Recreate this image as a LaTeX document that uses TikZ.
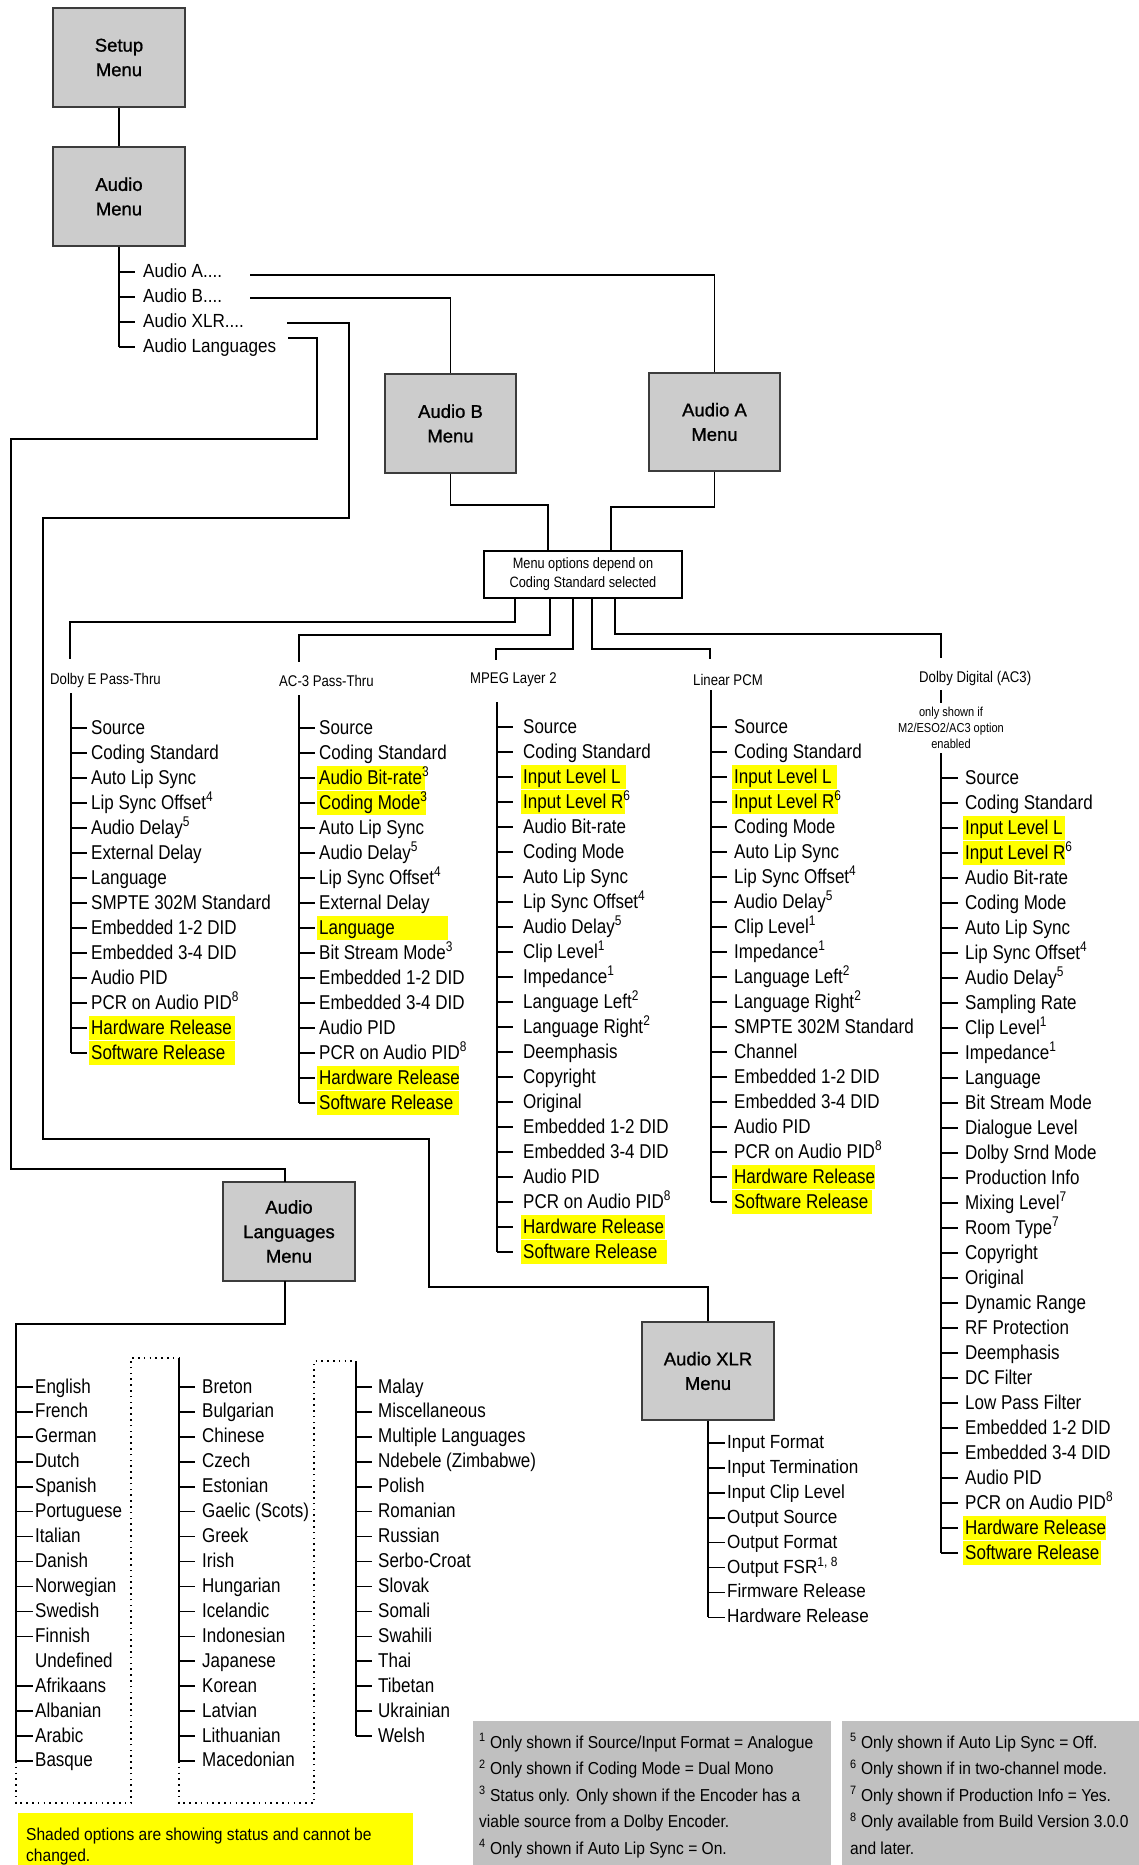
\documentclass[tikz,border=0pt]{standalone}
\usepackage{fontspec}
\setmainfont{Liberation Sans}
\newfontfamily\nf{Liberation Sans}[FakeStretch=0.85]
\newfontfamily\mf{Liberation Sans}[FakeStretch=0.9]
\newfontfamily\bxf{Liberation Sans}[FakeBold=1]
\newcommand\fsz[2]{\fontsize{#1}{#2}\selectfont}
\newcommand\fdots{{.}{.}{.}{.}}
\definecolor{boxgray}{RGB}{204,204,204}
\definecolor{boxline}{RGB}{60,60,60}
\definecolor{notegray}{RGB}{192,192,192}
\definecolor{hlyellow}{RGB}{255,255,0}
% #1 prefix, #2 trunk x, #3 first y, #4 step, #5 text x, #6 tick length, #7 style, #8 list
\newcommand\menucol[8]{%
  \foreach \itm/\hw [count=\i from 0] in {#8} {
    \pgfmathsetmacro\yy{#3+#4*\i}
    \ifnum\hw>0 \fill[hlyellow] ({#5-2},{\yy-12}) rectangle (\hw,{\yy+11.5});\fi
    \node[#7] (#1\i) at (#5,\yy) {\itm};
    \ifnum\hw<0 \else \draw[conn] (#2,\yy) -- ++(#6,0);\fi
  }}
\begin{document}
\begin{tikzpicture}[x=1pt,y=-1pt,
  conn/.style={line width=1.6pt},
  dotln/.style={line width=1.5pt, dash pattern=on 1.6pt off 4.2pt},
  menubox/.style={draw=boxline, line width=1.4pt, fill=boxgray, font=\bxf\fsz{18.5pt}{24.5pt}, align=center, inner sep=0pt, minimum width=132pt, minimum height=99pt},
  item/.style={font=\nf\fsz{20pt}{24pt}, inner sep=0pt, text height=15pt, text depth=3pt, anchor=west},
  sitem/.style={font=\mf\fsz{19pt}{23pt}, inner sep=0pt, text height=14pt, text depth=3pt, anchor=west},
  hdr/.style={font=\nf\fsz{15.5pt}{18pt}, inner sep=0pt, anchor=west},
  fnote/.style={font=\mf\fsz{17.3pt}{20pt}, inner sep=0pt, anchor=base west},
]
\useasboundingbox (0,0) rectangle (1139,1865);
\fill[white] (0,0) rectangle (1139,1865);

% ---------- main boxes
\node[menubox] (setup) at (119,57.5) {Setup\\Menu};
\node[menubox] (audio) at (119,196.5) {Audio\\Menu};
\node[menubox, minimum width=131pt] (boxB) at (450.5,423.5) {Audio B\\Menu};
\node[menubox, minimum width=131pt, minimum height=98pt] (boxA) at (714.5,422) {Audio A\\Menu};
\node[menubox] (langbox) at (289,1231.5) {Audio\\Languages\\Menu};
\node[menubox, minimum height=98pt] (xlrbox) at (708,1371) {Audio XLR\\Menu};
\node[draw, line width=1.2pt, fill=white, minimum width=198pt, minimum height=47pt, inner sep=0pt,
      font=\nf\fsz{15pt}{19pt}, align=center] (mo) at (583,574.5) {Menu options depend on\\Coding Standard selected};

\draw[conn] (setup.south) -- (audio.north);

% ---------- audio menu list
\draw[conn] (audio.south) -- (119,347);
\menucol{am}{119}{272}{25}{143}{16}{sitem}{Audio A\fdots/0, Audio B\fdots/0, Audio XLR\fdots/0, Audio Languages/0}

\coordinate (fa) at (250,275);
\coordinate (fb) at (250,298);
\coordinate (fx) at (287,323);
\coordinate (fl) at (288,338);
\draw[conn] (fa) -| (boxA.north);
\draw[conn] (fb) -| (boxB.north);
\draw[conn] (fx) -- (349,323) -- (349,518) -- (43,518) -- (43,1139) -- (429,1139) -- (429,1287) -| (xlrbox.north);
\draw[conn] (fl) -- (317,338) -- (317,439) -- (11,439) -- (11,1169) -- (285,1169) -- (285,1182);

% ---------- A/B to menu options
\draw[conn] (boxB.south) |- (548,505) -- (548,551);
\draw[conn] (boxA.south) |- (611,507) -- (611,551);

% ---------- menu options to columns
\draw[conn] (515,598) -- (515,622) -- (70,622) -- (70,659);
\draw[conn] (550,598) -- (550,635) -- (299,635) -- (299,662);
\draw[conn] (573,598) -- (573,649) -- (496,649) -- (496,660);
\draw[conn] (592,598) -- (592,649) -- (710,649) -- (710,659);
\draw[conn] (615,598) -- (615,634) -- (941,634) -- (941,658);

% ---------- column headers
\node[hdr] (hde) at (50,680) {Dolby E Pass-Thru};
\node[hdr] (hac) at (279,681) {AC-3 Pass-Thru};
\node[hdr] (hmp) at (470,680) {MPEG Layer 2};
\node[hdr] (hpc) at (693,680) {Linear PCM};
\node[hdr] (hdd) at (919,678) {Dolby Digital (AC3)};
\node[font=\nf\fsz{13pt}{16.3pt}, align=center, inner sep=0pt] (ddnote) at (951,728) {only shown if\\M2/ESO2/AC3 option\\enabled};

% ---------- Dolby E
\draw[conn] (71,693) -- (71,1053);
\menucol{de}{71}{728}{25}{91}{16}{item}{Source/0, Coding Standard/0, Auto Lip Sync/0, Lip Sync Offset\textsuperscript{4}/0, Audio Delay\textsuperscript{5}/0, External Delay/0, Language/0, SMPTE 302M Standard/0, Embedded 1-2 DID/0, Embedded 3-4 DID/0, Audio PID/0, PCR on Audio PID\textsuperscript{8}/0, Hardware Release/235, Software Release/235}

% ---------- AC-3
\draw[conn] (299,695) -- (299,1103);
\menucol{ac}{299}{728}{25}{319}{16}{item}{Source/0, Coding Standard/0, Audio Bit-rate\textsuperscript{3}/425, Coding Mode\textsuperscript{3}/426, Auto Lip Sync/0, Audio Delay\textsuperscript{5}/0, Lip Sync Offset\textsuperscript{4}/0, External Delay/0, Language/448, Bit Stream Mode\textsuperscript{3}/0, Embedded 1-2 DID/0, Embedded 3-4 DID/0, Audio PID/0, PCR on Audio PID\textsuperscript{8}/0, Hardware Release/459, Software Release/459}

% ---------- MPEG
\draw[conn] (497,702) -- (497,1252);
\menucol{mp}{497}{727}{25}{523}{16}{item}{Source/0, Coding Standard/0, Input Level L/626, Input Level R\textsuperscript{6}/625, Audio Bit-rate/0, Coding Mode/0, Auto Lip Sync/0, Lip Sync Offset\textsuperscript{4}/0, Audio Delay\textsuperscript{5}/0, Clip Level\textsuperscript{1}/0, Impedance\textsuperscript{1}/0, Language Left\textsuperscript{2}/0, Language Right\textsuperscript{2}/0, Deemphasis/0, Copyright/0, Original/0, Embedded 1-2 DID/0, Embedded 3-4 DID/0, Audio PID/0, PCR on Audio PID\textsuperscript{8}/0, Hardware Release/665, Software Release/667}

% ---------- Linear PCM
\draw[conn] (711,690) -- (711,1202);
\menucol{pc}{711}{727}{25}{734}{16}{item}{Source/0, Coding Standard/0, Input Level L/837, Input Level R\textsuperscript{6}/838, Coding Mode/0, Auto Lip Sync/0, Lip Sync Offset\textsuperscript{4}/0, Audio Delay\textsuperscript{5}/0, Clip Level\textsuperscript{1}/0, Impedance\textsuperscript{1}/0, Language Left\textsuperscript{2}/0, Language Right\textsuperscript{2}/0, SMPTE 302M Standard/0, Channel/0, Embedded 1-2 DID/0, Embedded 3-4 DID/0, Audio PID/0, PCR on Audio PID\textsuperscript{8}/0, Hardware Release/875, Software Release/872}

% ---------- Dolby Digital
\draw[conn] (941,690) -- (941,703);
\draw[conn] (941,753) -- (941,1553);
\menucol{dd}{941}{778}{25}{965}{17}{item}{Source/0, Coding Standard/0, Input Level L/1065, Input Level R\textsuperscript{6}/1065, Audio Bit-rate/0, Coding Mode/0, Auto Lip Sync/0, Lip Sync Offset\textsuperscript{4}/0, Audio Delay\textsuperscript{5}/0, Sampling Rate/0, Clip Level\textsuperscript{1}/0, Impedance\textsuperscript{1}/0, Language/0, Bit Stream Mode/0, Dialogue Level/0, Dolby Srnd Mode/0, Production Info/0, Mixing Level\textsuperscript{7}/0, Room Type\textsuperscript{7}/0, Copyright/0, Original/0, Dynamic Range/0, RF Protection/0, Deemphasis/0, DC Filter/0, Low Pass Filter/0, Embedded 1-2 DID/0, Embedded 3-4 DID/0, Audio PID/0, PCR on Audio PID\textsuperscript{8}/0, Hardware Release/1106, Software Release/1101}

% ---------- Audio XLR
\draw[conn] (xlrbox.south) -- (708,1617);
\menucol{xl}{708}{1443}{24.9}{727}{17}{sitem}{Input Format/0, Input Termination/0, Input Clip Level/0, Output Source/0, Output Format/0, {Output FSR\textsuperscript{1, 8}}/0, Firmware Release/0, Hardware Release/0}

% ---------- Audio Languages
\draw[conn] (285,1281) -- (285,1324) -- (16,1324) -- (16,1761);
\menucol{la}{16}{1387}{24.93}{35}{17}{item}{English/0, French/0, German/0, Dutch/0, Spanish/0, Portuguese/0, Italian/0, Danish/0, Norwegian/0, Swedish/0, Finnish/0, Undefined/-1, Afrikaans/0, Albanian/0, Arabic/0, Basque/0}
\draw[conn] (179,1358) -- (179,1761);
\menucol{lb}{179}{1387}{24.93}{202}{16}{item}{Breton/0, Bulgarian/0, Chinese/0, Czech/0, Estonian/0, Gaelic (Scots)/0, Greek/0, Irish/0, Hungarian/0, Icelandic/0, Indonesian/0, Japanese/0, Korean/0, Latvian/0, Lithuanian/0, Macedonian/0}
\draw[conn] (356,1361) -- (356,1736);
\menucol{lc}{356}{1387}{24.93}{378}{16}{item}{Malay/0, Miscellaneous/0, Multiple Languages/0, Ndebele (Zimbabwe)/0, Polish/0, Romanian/0, Russian/0, Serbo-Croat/0, Slovak/0, Somali/0, Swahili/0, Thai/0, Tibetan/0, Ukrainian/0, Welsh/0}
\draw[dotln] (16,1761) -- (16,1803) -- (131,1803) -- (131,1358) -- (179,1358);
\draw[dotln] (179,1761) -- (179,1803) -- (314,1803) -- (314,1361) -- (356,1361);

% ---------- notes
\fill[hlyellow] (18,1813) rectangle (413,1865);
\node[fnote] (shade1) at (26,1840) {Shaded options are showing status and cannot be};
\node[fnote] (shade2) at (26,1861) {changed.};

\fill[notegray] (473,1721) rectangle (831,1865);
\fill[notegray] (842,1721) rectangle (1139,1865);
\node[fnote] (f1) at (479,1748) {\textsuperscript{1} Only shown if Source/Input Format = Analogue};
\node[fnote] (f2) at (479,1774.5) {\textsuperscript{2} Only shown if Coding Mode = Dual Mono};
\node[fnote] (f3) at (479,1801) {\textsuperscript{3} Status only. Only shown if the Encoder has a};
\node[fnote] (f3b) at (479,1827.5) {viable source from a Dolby Encoder.};
\node[fnote] (f4) at (479,1854) {\textsuperscript{4} Only shown if Auto Lip Sync = On.};
\node[fnote] (f5) at (850,1748) {\textsuperscript{5} Only shown if Auto Lip Sync = Off.};
\node[fnote] (f6) at (850,1774.5) {\textsuperscript{6} Only shown if in two-channel mode.};
\node[fnote] (f7) at (850,1801) {\textsuperscript{7} Only shown if Production Info = Yes.};
\node[fnote] (f8) at (850,1827.5) {\textsuperscript{8} Only available from Build Version 3.0.0};
\node[fnote] (f8b) at (850,1854) {and later.};
\end{tikzpicture}
\end{document}
